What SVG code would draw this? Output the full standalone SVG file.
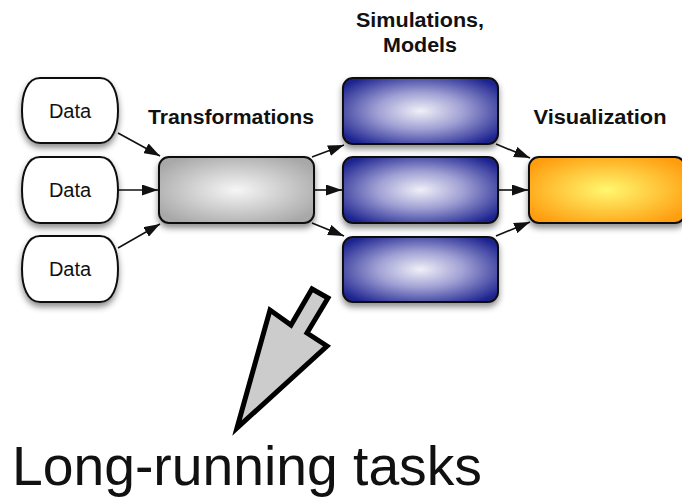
<svg xmlns="http://www.w3.org/2000/svg" width="682" height="500" viewBox="0 0 682 500">
<style>
.box{stroke:#111;stroke-width:2}
.lbl{font-family:"Liberation Sans",Arial,sans-serif;font-weight:bold;font-size:20px;fill:#111;text-anchor:middle}
.dt{font-family:"Liberation Sans",Arial,sans-serif;font-size:20px;fill:#111;text-anchor:middle}
.conn{stroke:#111;stroke-width:1.6;fill:none;marker-end:url(#ah)}
</style>
<defs>
<filter id="sh" x="-20%" y="-20%" width="140%" height="150%">
<feDropShadow dx="0" dy="4" stdDeviation="3" flood-color="#000" flood-opacity="0.45"/>
</filter>
<radialGradient id="gGray" cx="0.5" cy="0.5" r="0.6">
<stop offset="0" stop-color="#f6f6f6"/>
<stop offset="1" stop-color="#a8a8a8"/>
</radialGradient>
<radialGradient id="gBlue" cx="0.5" cy="0.5" r="0.62">
<stop offset="0" stop-color="#f0f0f8"/>
<stop offset="0.45" stop-color="#a0a0d4"/>
<stop offset="1" stop-color="#1e2490"/>
</radialGradient>
<radialGradient id="gOrange" cx="0.5" cy="0.5" r="0.6">
<stop offset="0" stop-color="#fff870"/>
<stop offset="1" stop-color="#ff9e10"/>
</radialGradient>
<marker id="ah" viewBox="0 0 16 11" refX="16" refY="5.5" markerWidth="16" markerHeight="11" markerUnits="userSpaceOnUse" orient="auto">
<path d="M0,0 L16,5.5 L0,11 Z" fill="#111"/>
</marker>
</defs>
<rect width="682" height="500" fill="#fff"/>

<g id="connectors">
<line class="conn" x1="118" y1="133" x2="160" y2="156"/>
<line class="conn" x1="118" y1="190" x2="158" y2="190"/>
<line class="conn" x1="118" y1="248" x2="160" y2="224"/>
<line class="conn" x1="312" y1="157" x2="344" y2="145"/>
<line class="conn" x1="314" y1="190" x2="342" y2="190"/>
<line class="conn" x1="312" y1="223" x2="344" y2="236"/>
<line class="conn" x1="496" y1="144" x2="530" y2="158"/>
<line class="conn" x1="498" y1="190" x2="528" y2="190"/>
<line class="conn" x1="496" y1="236" x2="530" y2="222"/>
</g>

<g id="data1" filter="url(#sh)">
<path class="box" fill="#fff" d="M40,78 H100 C113,78 118,94 118,110.5 C118,127 113,143 100,143 H40 C27,143 22,127 22,110.5 C22,94 27,78 40,78 Z"/>
</g>
<text class="dt" x="70" y="117.5">Data</text>
<g id="data2" filter="url(#sh)">
<path class="box" fill="#fff" d="M40,157 H100 C113,157 118,173 118,190 C118,207 113,223 100,223 H40 C27,223 22,207 22,190 C22,173 27,157 40,157 Z"/>
</g>
<text class="dt" x="70" y="197">Data</text>
<g id="data3" filter="url(#sh)">
<path class="box" fill="#fff" d="M40,236 H100 C113,236 118,252 118,269 C118,286 113,302 100,302 H40 C27,302 22,286 22,269 C22,252 27,236 40,236 Z"/>
</g>
<text class="dt" x="70" y="276">Data</text>

<g id="transformations">
<rect class="box" x="159" y="157" width="155" height="66" rx="10" fill="url(#gGray)" filter="url(#sh)"/>
<text class="lbl" x="231" y="124" textLength="166" lengthAdjust="spacingAndGlyphs">Transformations</text>
</g>

<g id="sim1">
<rect class="box" x="343" y="78" width="155" height="66" rx="10" fill="url(#gBlue)" filter="url(#sh)"/>
</g>
<g id="sim2">
<rect class="box" x="343" y="157" width="155" height="66" rx="10" fill="url(#gBlue)" filter="url(#sh)"/>
</g>
<g id="sim3">
<rect class="box" x="343" y="237" width="155" height="65" rx="10" fill="url(#gBlue)" filter="url(#sh)"/>
</g>
<g id="simLabel">
<text class="lbl" x="420" y="27" textLength="128" lengthAdjust="spacingAndGlyphs">Simulations,</text>
<text class="lbl" x="420" y="52" textLength="74" lengthAdjust="spacingAndGlyphs">Models</text>
</g>

<g id="visualization">
<rect class="box" x="529" y="157" width="156" height="66" rx="10" fill="url(#gOrange)" filter="url(#sh)"/>
<text class="lbl" x="600" y="124" textLength="133" lengthAdjust="spacingAndGlyphs">Visualization</text>
</g>

<g id="bigArrow">
<polygon points="237,428 270,310 291,325 312,289 328,298 307,333 327,346" fill="#cccccc" stroke="#000" stroke-width="5" stroke-linejoin="miter"/>
</g>

<text x="12" y="485" font-family="'Liberation Sans',Arial,sans-serif" font-size="55" fill="#111" textLength="470" lengthAdjust="spacingAndGlyphs">Long-running tasks</text>
</svg>
